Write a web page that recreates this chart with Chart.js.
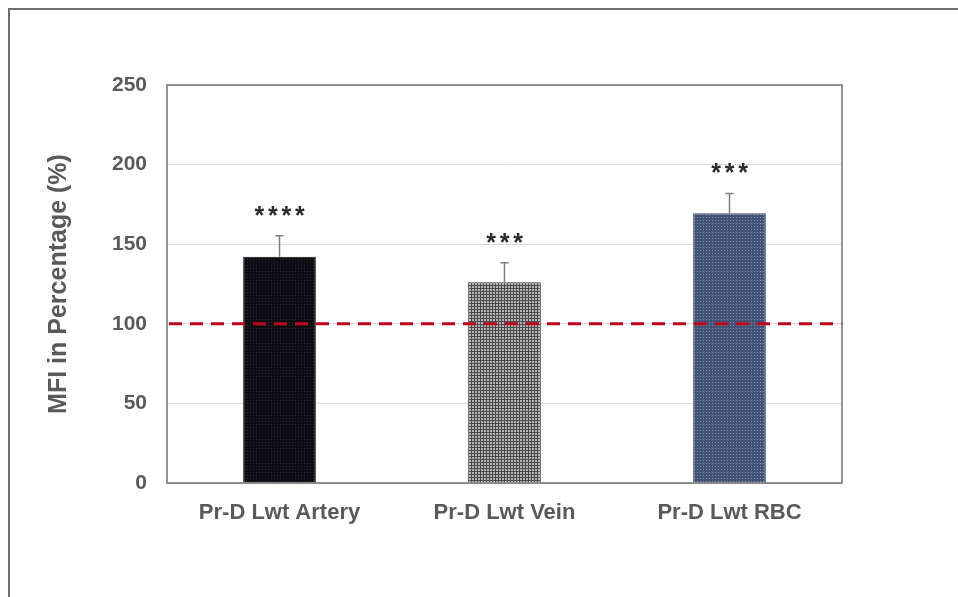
<!DOCTYPE html>
<html>
<head>
<meta charset="utf-8">
<script src="https://cdn.jsdelivr.net/npm/chart.js@4"></script>
<style>
  html, body { margin: 0; padding: 0; background: #fff; overflow: hidden; }
  #frame { position: absolute; left: 8px; top: 8px; width: 1000px; height: 700px;
           border-left: 2px solid #6e6e6e; border-top: 2px solid #6e6e6e; }
  #wrap { position: absolute; left: 0; top: 0; width: 958px; height: 597px; }
</style>
</head>
<body>
<div id="frame"></div>
<div id="wrap"><canvas id="chart"></canvas></div>
<script>
// données du graphique
const categories = ["Pr-D Lwt Artery", "Pr-D Lwt Vein", "Pr-D Lwt RBC"];
const mfiValues = [142.1, 126.1, 169.4];
const errValues = [13.2, 12.3, 12.5];
const starCounts = [4, 3, 3];
const yTicks = [0, 50, 100, 150, 200, 250];
const refValue = 100; // ligne de référence (contrôle = 100 %)

// Motifs de remplissage des barres
function makePattern(bg, fg, kind) {
    const c = document.createElement("canvas");
    c.width = 3; c.height = 3;
    const ctx = c.getContext("2d");
    ctx.fillStyle = bg;
    ctx.fillRect(0, 0, 3, 3);
    ctx.fillStyle = fg;
    if (kind === "check") {
        ctx.fillRect(1, 1, 2, 2);
    } else {
        ctx.fillRect(1, 1, 1, 1);
    }
    return ctx.createPattern(c, "repeat");
}

const fills = [
    makePattern("#0c0c12", "#2b2b38", "dot"),
    makePattern("#4a4a4a", "#b4b4b4", "check"),
    makePattern("#415475", "#8496b6", "dot")
];

const fontFamily = "'Liberation Sans', Arial, sans-serif";

// Barres d'erreur + étoiles de significativité
const errorBarPlugin = {
    id: "errorBars",
    afterDatasetsDraw(chart) {
        const ctx = chart.ctx;
        const meta = chart.getDatasetMeta(0);
        const y = chart.scales.y;
        ctx.save();
        meta.data.forEach((bar, i) => {
            const top = y.getPixelForValue(mfiValues[i] + errValues[i]);
            ctx.strokeStyle = "#808080";
            ctx.lineWidth = 1.5;
            ctx.beginPath();
            ctx.moveTo(bar.x, bar.y);
            ctx.lineTo(bar.x, top);
            ctx.moveTo(bar.x - 4, top);
            ctx.lineTo(bar.x + 4, top);
            ctx.stroke();

            // étoiles espacées
            ctx.fillStyle = "#2a2a2a";
            ctx.font = "bold 25px " + fontFamily;
            ctx.textAlign = "center";
            ctx.textBaseline = "middle";
            const n = starCounts[i];
            const step = 13.5;
            for (let k = 0; k < n; k++) {
                const sx = bar.x + (k - (n - 1) / 2) * step;
                ctx.fillText("*", sx, top - 19);
            }
        });
        ctx.restore();
    }
};

// Ligne pointillée rouge à 100 %
const refLinePlugin = {
    id: "refLine",
    afterDatasetsDraw(chart) {
        const ctx = chart.ctx;
        const area = chart.chartArea;
        const yPix = chart.scales.y.getPixelForValue(refValue);
        ctx.save();
        ctx.strokeStyle = "#c0001a";
        ctx.lineWidth = 3;
        ctx.setLineDash([13, 8]);
        ctx.beginPath();
        ctx.moveTo(area.left + 2, yPix);
        ctx.lineTo(area.right, yPix);
        ctx.stroke();
        ctx.restore();
    }
};

// Cadre autour de la zone de tracé
const boxPlugin = {
    id: "plotBox",
    afterDraw(chart) {
        const ctx = chart.ctx;
        const a = chart.chartArea;
        ctx.save();
        ctx.strokeStyle = "#707070";
        ctx.lineWidth = 1.5;
        ctx.strokeRect(a.left, a.top, a.right - a.left, a.bottom - a.top);
        ctx.restore();
    }
};

new Chart(document.getElementById("chart"), {
    type: "bar",
    data: {
        labels: categories,
        datasets: [{
            data: mfiValues,
            backgroundColor: fills,
            borderColor: ["#111111", "#333333", "#38486a"],
            borderWidth: 1,
            barPercentage: 0.323,
            categoryPercentage: 1
        }]
    },
    options: {
        responsive: true,
        maintainAspectRatio: false,
        animation: false,
        layout: { padding: { left: 44, top: 85, right: 116, bottom: 54 } },
        plugins: {
            legend: { display: false },
            tooltip: { enabled: false }
        },
        scales: {
            x: {
                afterFit(scale) { scale.height = 60; },
                grid: { display: false, drawTicks: false },
                border: { display: false },
                ticks: {
                    padding: 17,
                    color: "#595959",
                    font: { family: fontFamily, size: 22, weight: "bold" }
                }
            },
            y: {
                min: 0,
                max: 250,
                afterFit(scale) { scale.width = 123; },
                afterBuildTicks(scale) {
                    scale.ticks = yTicks.map(v => ({ value: v }));
                },
                grid: { color: "#d9d9d9", lineWidth: 1, drawTicks: false },
                border: { display: false },
                ticks: {
                    padding: 20,
                    color: "#595959",
                    font: { family: fontFamily, size: 21, weight: "bold" }
                },
                title: {
                    display: true,
                    text: "MFI in Percentage (%)",
                    color: "#595959",
                    padding: { top: 0, bottom: 0 },
                    font: { family: fontFamily, size: 25, weight: "bold" }
                }
            }
        }
    },
    plugins: [refLinePlugin, errorBarPlugin, boxPlugin]
});
</script>
</body>
</html>
